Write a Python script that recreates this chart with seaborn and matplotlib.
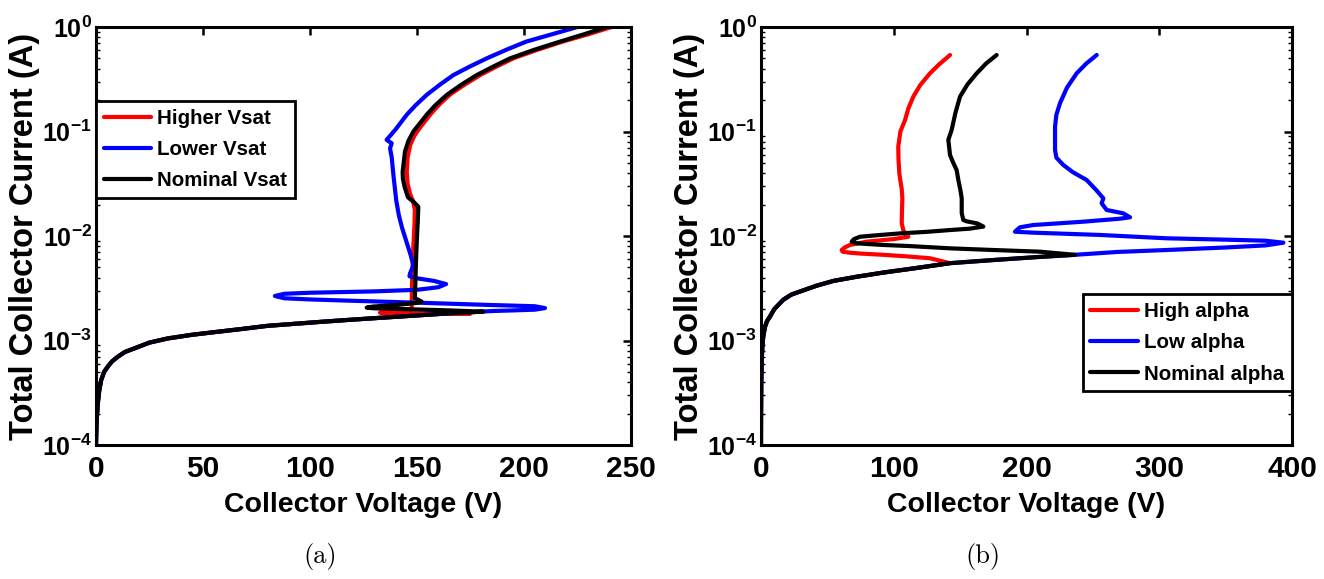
import numpy as np
import pandas as pd
import matplotlib
matplotlib.use("Agg")
import matplotlib.pyplot as plt
import seaborn as sns
from matplotlib.ticker import LogLocator, NullFormatter

# ---------------------------------------------------------------------------
# Data: collector voltage (V) and log10 of total collector current (A)
# ---------------------------------------------------------------------------
# (a) Vsat variation -- shared low-current rise before snapback
rise_a_v = [0, 0.1, 0.35, 0.85, 1.5, 2.4, 3.8, 5.5, 7.5, 10.2, 13.5, 18, 25,
            33.6, 45, 57, 68, 80, 93, 106, 120, 135, 150, 165]
rise_a_log_i = [-4.0, -3.9, -3.75, -3.60, -3.48, -3.38, -3.30, -3.25, -3.20,
                -3.155, -3.11, -3.075, -3.02, -2.98, -2.945, -2.916, -2.89,
                -2.86, -2.84, -2.82, -2.80, -2.78, -2.76, -2.74]

higher_vsat_v = [175, 160, 145, 135, 132.7, 134, 140, 146, 147.5, 147.6, 147.9,
                 148.3, 148.8, 149.0, 148.2, 146.8, 145.6, 145.2, 145.6, 146.8,
                 148.8, 151.5, 156.5, 160.5, 165.5, 172, 179.5, 187, 195, 206,
                 218, 230, 241]
higher_vsat_log_i = [-2.742, -2.741, -2.739, -2.737, -2.733, -2.726, -2.718,
                     -2.71, -2.70, -2.50, -2.30, -2.10, -1.90, -1.75, -1.67,
                     -1.60, -1.50, -1.38, -1.25, -1.13, -1.04, -0.96, -0.83,
                     -0.74, -0.645, -0.555, -0.46, -0.38, -0.30, -0.22, -0.14,
                     -0.07, 0.0]

lower_vsat_v = [185, 195, 205, 209.8, 205, 184, 150, 120, 100, 88, 83.6, 88, 100,
                130, 150, 160, 163.6, 158, 150, 146.5, 146.7, 148.3, 147, 145,
                143, 141.5, 140.3, 139.7, 139, 138.2, 137.4, 138.2, 135.8, 140,
                145.2, 149.3, 154.5, 160.5, 167, 174.5, 182.6, 191.5, 201, 213,
                225]
lower_vsat_log_i = [-2.718, -2.712, -2.705, -2.69, -2.672, -2.66, -2.638, -2.62,
                    -2.607, -2.596, -2.574, -2.553, -2.543, -2.53, -2.515, -2.49,
                    -2.46, -2.43, -2.405, -2.385, -2.36, -2.28, -2.18, -2.05,
                    -1.92, -1.80, -1.66, -1.55, -1.42, -1.25, -1.16, -1.113,
                    -1.08, -0.98, -0.84, -0.75, -0.65, -0.555, -0.46, -0.38,
                    -0.30, -0.22, -0.14, -0.07, 0.0]

nominal_vsat_v = [181, 165, 145, 130, 126.5, 129, 140, 150, 152.2, 150.5, 149,
                  149.3, 149.6, 150.0, 150.4, 150.6, 148.5, 145.8, 144.2, 143.4,
                  143.3, 144.4, 146, 148.3, 154.5, 158.5, 163.9, 170.5, 177.9,
                  185.5, 193.5, 204.5, 216.8, 228, 238.6]
nominal_vsat_log_i = [-2.724, -2.712, -2.70, -2.692, -2.686, -2.676, -2.66,
                      -2.64, -2.629, -2.61, -2.596, -2.40, -2.20, -2.00, -1.85,
                      -1.72, -1.675, -1.63, -1.53, -1.45, -1.385, -1.19, -1.09,
                      -1.00, -0.84, -0.75, -0.65, -0.555, -0.46, -0.38, -0.30,
                      -0.22, -0.14, -0.07, 0.0]

# (b) alpha variation -- shared low-current rise before snapback
rise_b_v = [0, 0.05, 0.2, 0.5, 1.0, 1.7, 3.0, 4.5, 6.8, 10, 16.8, 23, 31.9, 42,
            54.5, 72, 92.1, 115, 142.4, 175, 210, 236.5]
rise_b_log_i = [-4.0, -3.7, -3.4, -3.2, -3.06, -2.96, -2.87, -2.815, -2.77,
                -2.70, -2.61, -2.56, -2.52, -2.475, -2.43, -2.39, -2.35, -2.31,
                -2.26, -2.23, -2.20, -2.18]

high_alpha_v = [127.3, 110, 92.1, 75, 67, 61.5, 60.8, 63, 67, 79.6, 99.7, 111,
                108.5, 107.2, 106, 106.2, 106.5, 106, 105, 104.2, 103.6, 103.4,
                105, 108.5, 111, 114.7, 120, 127.3, 134, 142.4]
high_alpha_log_i = [-2.213, -2.195, -2.18, -2.168, -2.16, -2.15, -2.134, -2.11,
                    -2.086, -2.054, -2.03, -2.007, -1.975, -1.943, -1.878,
                    -1.75, -1.64, -1.55, -1.47, -1.40, -1.27, -1.145, -1.00,
                    -0.89, -0.78, -0.667, -0.555, -0.443, -0.36, -0.268]

low_alpha_v = [268, 305.6, 350, 380, 393.5, 380, 350, 305.6, 255.4, 205, 191.3,
               195, 205, 242.8, 270, 278, 272.9, 260.4, 256.6, 257.9, 252.5,
               245.3, 235, 227.7, 222.5, 221.5, 221.5, 222.5, 225.2, 230.5,
               237.8, 245, 252.9]
low_alpha_log_i = [-2.153, -2.134, -2.11, -2.09, -2.064, -2.045, -2.035, -2.022,
                   -1.99, -1.968, -1.959, -1.917, -1.895, -1.863, -1.835, -1.821,
                   -1.783, -1.751, -1.687, -1.64, -1.56, -1.464, -1.39, -1.32,
                   -1.25, -1.177, -0.954, -0.84, -0.73, -0.58, -0.443, -0.35,
                   -0.268]

nominal_alpha_v = [210, 175, 142.4, 110, 92.1, 72, 68.3, 70, 74.6, 90, 104.7,
                   125, 142.4, 157, 167.5, 163, 155, 152.4, 151.2, 151.2, 150.2,
                   148.6, 147.4, 144.5, 142.4, 141.1, 143.6, 146.5, 149.9, 155.5,
                   162.5, 169.5, 177.5]
nominal_alpha_log_i = [-2.15, -2.134, -2.118, -2.095, -2.086, -2.07, -2.054,
                       -2.03, -2.007, -1.99, -1.975, -1.96, -1.943, -1.93, -1.91,
                       -1.88, -1.86, -1.847, -1.78, -1.64, -1.56, -1.46, -1.37,
                       -1.29, -1.225, -1.08, -0.986, -0.82, -0.667, -0.55,
                       -0.443, -0.35, -0.268]

labels_a = ["Higher Vsat", "Lower Vsat", "Nominal Vsat"]
labels_b = ["High alpha", "Low alpha", "Nominal alpha"]
line_colors = ["#ff0000", "#0000ff", "#000000"]

x_ticks_a = [0, 50, 100, 150, 200, 250]
x_ticks_b = [0, 100, 200, 300, 400]
y_ticks = [1e-4, 1e-3, 1e-2, 1e-1, 1e0]
y_tick_labels = [r"$\mathbf{10^{-4}}$", r"$\mathbf{10^{-3}}$", r"$\mathbf{10^{-2}}$",
                 r"$\mathbf{10^{-1}}$", r"$\mathbf{10^{0}}$"]


def curve(label, rise_v, rise_log_i, v_stop, tail_v, tail_log_i):
    """Rise up to v_stop followed by the series' own snapback branch."""
    rv = [v for v in rise_v if v <= v_stop]
    rl = rise_log_i[:len(rv)]
    v = np.asarray(rv + list(tail_v), dtype=float)
    i = 10.0 ** np.asarray(rl + list(tail_log_i), dtype=float)
    return pd.DataFrame({"V": v, "I": i, "series": label})


df_a = pd.concat([
    curve(labels_a[0], rise_a_v, rise_a_log_i, 165, higher_vsat_v, higher_vsat_log_i),
    curve(labels_a[1], rise_a_v, rise_a_log_i, 165, lower_vsat_v, lower_vsat_log_i),
    curve(labels_a[2], rise_a_v, rise_a_log_i, 165, nominal_vsat_v, nominal_vsat_log_i),
], ignore_index=True)

df_b = pd.concat([
    curve(labels_b[0], rise_b_v, rise_b_log_i, 142.4, high_alpha_v, high_alpha_log_i),
    curve(labels_b[1], rise_b_v, rise_b_log_i, 236.5, low_alpha_v, low_alpha_log_i),
    curve(labels_b[2], rise_b_v, rise_b_log_i, 236.5, nominal_alpha_v, nominal_alpha_log_i),
], ignore_index=True)

# ---------------------------------------------------------------------------
# Style
# ---------------------------------------------------------------------------
sns.set_style("white")
plt.rcParams.update({
    "font.family": ["Liberation Sans", "DejaVu Sans"],
    "font.weight": "bold",
    "mathtext.fontset": "custom",
    "mathtext.rm": "Liberation Sans:bold",
    "mathtext.bf": "Liberation Sans:bold",
    "mathtext.it": "Liberation Sans:bold",
    "text.color": "black",
    "axes.labelcolor": "black",
    "xtick.color": "black",
    "ytick.color": "black",
    "axes.edgecolor": "black",
    "axes.linewidth": 2.2,
})

W, H = 1324, 579
fig = plt.figure(figsize=(W / 100, H / 100), dpi=100)
fig.patch.set_facecolor("white")

ax_a = fig.add_axes([96 / W, 1 - 445 / H, 535 / W, 418 / H])
ax_b = fig.add_axes([761 / W, 1 - 445 / H, 531 / W, 418 / H])

panels = [
    (ax_a, df_a, labels_a, x_ticks_a, (0, 250), "upper left", (0.0, 0.823), "(a)", 320, -0.104),
    (ax_b, df_b, labels_b, x_ticks_b, (0, 400), "upper right", (1.0, 0.361), "(b)", 983, -0.106),
]

for ax, df, labels, xt, xlim, loc, anchor, tag, tag_x, ylab_x in panels:
    sns.lineplot(data=df, x="V", y="I", hue="series", hue_order=labels,
                 palette=line_colors, sort=False, estimator=None, errorbar=None,
                 linewidth=3.0, legend=False, ax=ax)
    ax.set_yscale("log")
    ax.set_xlim(*xlim)
    ax.set_ylim(1e-4, 1e0)
    ax.set_xticks(xt)
    ax.set_xticklabels([str(t) for t in xt])
    ax.set_yticks(y_ticks)
    ax.set_yticklabels(y_tick_labels)
    ax.yaxis.set_minor_locator(LogLocator(base=10, subs=np.arange(2, 10)))
    ax.yaxis.set_minor_formatter(NullFormatter())
    ax.tick_params(which="major", direction="in", top=True, right=True,
                   length=6, width=1.8, colors="black")
    ax.tick_params(axis="x", which="major", labelsize=21.5, pad=7)
    ax.tick_params(axis="y", which="major", labelsize=18, pad=3)
    ax.tick_params(which="minor", direction="in", left=True, right=True,
                   length=3, width=1.0)
    for s in ax.spines.values():
        s.set_visible(True)
        s.set_linewidth(2.2)
        s.set_color("black")
    for t in ax.get_xticklabels() + ax.get_yticklabels():
        t.set_fontweight("bold")

    ax.set_xlabel("Collector Voltage (V)", fontsize=20.5, fontweight="bold")
    ax.set_ylabel("Total Collector Current (A)", fontsize=23.5, fontweight="bold")
    ax.xaxis.set_label_coords(0.5, -0.112)
    ax.yaxis.set_label_coords(ylab_x, 0.5)

    leg = ax.legend(ax.lines[:3], labels, loc=loc, bbox_to_anchor=anchor,
                    borderaxespad=0, frameon=True, fancybox=False,
                    edgecolor="black", framealpha=1,
                    prop={"weight": "bold", "size": 14.8},
                    handlelength=2.3, handletextpad=0.3, labelspacing=0.6,
                    borderpad=0.38)
    leg.get_frame().set_linewidth(2.0)

    fig.text(tag_x / W, 1 - 556 / H, tag, family="cmr10", fontsize=19,
             fontweight="normal", ha="center", va="center")

fig.savefig("out.png", dpi=100, facecolor="white")
